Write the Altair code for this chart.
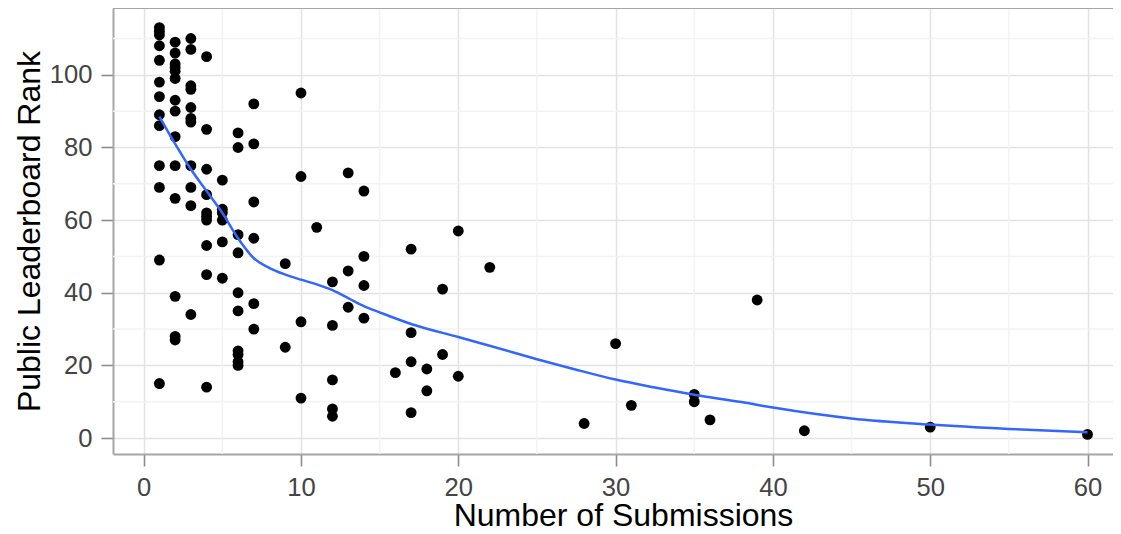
import altair as alt
import pandas as pd

# Scatter data: number of submissions vs public leaderboard rank
submissions = (
    [1] * 13 + [2] * 14 + [3] * 11 + [4] * 10 + [5] * 6 + [6] * 10 + [7] * 6
    + [9] * 2 + [10] * 4 + [11] + [12] * 5 + [13] * 3 + [14] * 4 + [16]
    + [17] * 4 + [18] * 2 + [19] * 2 + [20] * 2 + [22] + [28] + [30] + [31]
    + [35] * 2 + [36] + [39] + [42] + [50] + [60]
)
ranks = (
    [113, 112, 111, 108, 104, 98, 94, 89, 86, 75, 69, 49, 15]
    + [109, 106, 103, 102, 101, 99, 93, 90, 83, 75, 66, 39, 28, 27]
    + [110, 107, 97, 96, 91, 88, 87, 75, 69, 64, 34]
    + [105, 85, 74, 67, 62, 61, 60, 53, 45, 14]
    + [71, 63, 62, 60, 54, 44]
    + [84, 80, 56, 51, 40, 35, 24, 23, 21, 20]
    + [92, 81, 65, 55, 37, 30]
    + [48, 25]
    + [95, 72, 32, 11]
    + [58]
    + [43, 31, 16, 8, 6]
    + [73, 46, 36]
    + [68, 50, 42, 33]
    + [18]
    + [52, 29, 21, 7]
    + [19, 13]
    + [41, 23]
    + [57, 17]
    + [47]
    + [4]
    + [26]
    + [9]
    + [12, 10]
    + [5]
    + [38]
    + [2]
    + [3]
    + [1]
)

# Smoothed trend line
fit_x = [1, 2, 3, 4, 5, 6, 7, 8, 9, 10, 11, 12, 13, 14, 15, 17, 20, 22.5, 25,
         27.5, 30, 32.5, 35, 38, 40, 45, 50, 55, 60]
fit_y = [88.5, 81, 74, 68, 62, 55, 49.5, 46.8, 45, 43.6, 42.3, 40.7, 38.5,
         36.3, 34.6, 31.4, 27.8, 24.8, 21.7, 18.8, 16.1, 13.9, 11.9, 9.9, 8.4,
         5.4, 3.7, 2.5, 1.6]

# Tick / grid positions
x_major = [0, 10, 20, 30, 40, 50, 60]
x_minor = [5, 15, 25, 35, 45, 55]
y_major = [0, 20, 40, 60, 80, 100]
y_minor = [10, 30, 50, 70, 90, 110]

pts = pd.DataFrame({"sub": submissions, "rank": ranks})
fit = pd.DataFrame({"sub": fit_x, "rank": fit_y})
vminor = pd.DataFrame({"sub": x_minor})
hminor = pd.DataFrame({"rank": y_minor})

FONT = "Liberation Sans"
BORDER = "#a6a6a6"
PLOT_W = 1000
PLOT_H = 446

xs = alt.Scale(domain=[-1.95, 61.62], nice=False, zero=False)
ys = alt.Scale(domain=[-4.4, 118.4], nice=False, zero=False)

common_axis = dict(
    grid=True, gridColor="#e3e3e3", gridWidth=1.5,
    domain=True, domainColor=BORDER, domainWidth=2,
    ticks=True, tickSize=12, tickColor="#8c8c8c", tickWidth=1.6,
    labelPadding=9, labelFontSize=25.6, labelColor="#444444", labelFont=FONT,
    titleFontSize=32, titleFont=FONT, titleFontWeight="normal",
    titleColor="#000000", titleBaseline="alphabetic",
)

xaxis = alt.Axis(values=x_major, title="Number of Submissions",
                 titleY=71, titleX=510, titleAlign="center", **common_axis)
yaxis = alt.Axis(values=y_major, title="Public Leaderboard Rank",
                 titleX=-74, titleY=223, titleAlign="center", **common_axis)

X = alt.X("sub:Q", scale=xs, axis=xaxis)
Y = alt.Y("rank:Q", scale=ys, axis=yaxis)

vrules = alt.Chart(vminor).mark_rule(color="#f3f3f3", strokeWidth=1.5).encode(x=X)
hrules = alt.Chart(hminor).mark_rule(color="#f3f3f3", strokeWidth=1.5).encode(y=Y)

# top edge of the panel frame (the right edge lies outside the cropped view)
top_border = alt.Chart(hminor).mark_rule(color=BORDER, strokeWidth=2).encode(
    x=alt.value(0), x2=alt.value(PLOT_W), y=alt.value(0)
)

points = alt.Chart(pts).mark_circle(size=118, color="black", opacity=1).encode(x=X, y=Y)

line = alt.Chart(fit).mark_line(
    color="#3366FF", strokeWidth=2.5, interpolate="monotone"
).encode(x=X, y=Y)

chart = (
    alt.layer(vrules, hrules, top_border, points, line)
    .properties(
        width=PLOT_W,
        height=PLOT_H,
        autosize=alt.AutoSizeParams(type="none"),
        padding={"left": 105, "top": 0, "right": 0, "bottom": 72},
    )
    .configure_view(strokeWidth=0)
)

chart.save("out.html", embed_options={"renderer": "svg", "actions": False})
